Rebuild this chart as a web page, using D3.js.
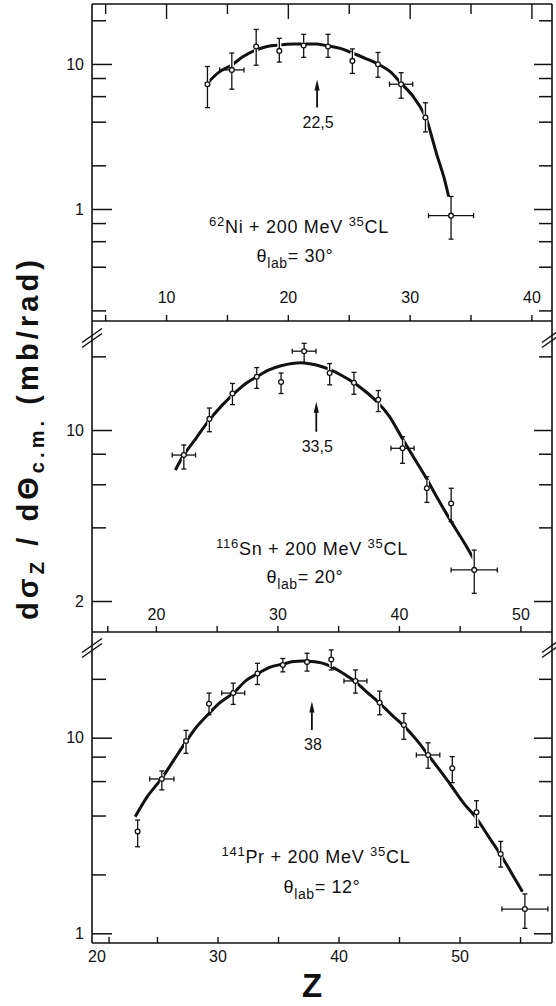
<!DOCTYPE html>
<html>
<head>
<meta charset="utf-8">
<script src="https://cdn.jsdelivr.net/npm/d3@7"></script>
<style>
  body { margin: 0; background: #fff; }
  svg { display: block; }
  text { font-family: "Liberation Sans", Arial, sans-serif; fill: #111; }
</style>
</head>
<body>
<svg id="chart" width="556" height="1006"></svg>
<script>
// ---- data ----
// 62Ni + 35Cl, theta_lab = 30
const niZ  = [13.4, 15.4, 17.4, 19.3, 21.3, 23.3, 25.3, 27.4, 29.3, 31.3, 33.4];
const niY  = [7.25, 9.1, 13.2, 12.3, 13.4, 13.2, 10.5, 9.95, 7.25, 4.27, 0.90];
const niHi = [9.6, 11.9, 17.3, 15.0, 16.0, 16.0, 12.7, 12.0, 8.7, 5.4, 1.22];
const niLo = [5.0, 6.7, 9.8, 10.3, 11.1, 11.1, 8.6, 8.1, 5.8, 3.4, 0.62];
const niDz = [0, 1.0, 0, 0, 0, 0, 0, 0, 0.95, 0, 1.85];
const niCurveZ = [13.4, 14.4, 15.4, 16.3, 17.4, 18.3, 19.3, 20.5, 21.3, 22.4, 23.3, 24.3,
  25.3, 26.5, 27.4, 28.4, 29.3, 30.3, 31.3, 31.7, 32.2, 32.8, 33.2];
const niCurveY = [7.36, 8.85, 9.84, 11.2, 12.5, 13.2, 13.5, 13.7, 13.7, 13.7, 13.3, 12.8,
  11.9, 10.8, 10.0, 8.85, 7.36, 5.96, 4.34, 3.41, 2.42, 1.67, 1.22];

// 116Sn + 35Cl, theta_lab = 20
const snZ  = [22.3, 24.4, 26.3, 28.3, 30.3, 32.2, 34.3, 36.3, 38.3, 40.3, 42.3, 44.3, 46.2];
const snY  = [7.9, 11.1, 14.1, 16.5, 15.7, 21.0, 17.1, 15.6, 13.3, 8.42, 5.78, 5.01, 2.68];
const snHi = [8.69, 12.3, 15.5, 18.0, 17.1, 22.6, 18.7, 17.2, 14.5, 9.39, 6.44, 5.78, 3.23];
const snLo = [6.93, 9.84, 12.7, 14.8, 14.1, 18.8, 15.3, 14.0, 11.9, 7.31, 5.06, 4.22, 2.15];
const snDz = [0.96, 0, 0, 0, 0, 0.98, 0, 0, 0, 0.95, 0, 0, 1.9];
const snCurveZ = [21.6, 22.3, 23.3, 24.4, 25.5, 26.3, 27.4, 28.3, 29.3, 30.3, 31.2, 32.2, 33.2,
  34.3, 35.3, 36.3, 37.3, 38.3, 39.2, 40.3, 41.1, 42.3, 43.0, 43.8, 44.7, 45.5, 46.2];
const snCurveY = [6.86, 7.91, 9.25, 11.0, 12.7, 13.9, 15.5, 16.5, 17.6, 18.3, 18.7, 18.8, 18.45,
  17.7, 16.7, 15.6, 14.3, 12.9, 11.4, 9.2, 7.9, 6.3, 5.45, 4.65, 3.92, 3.38, 2.94];

// 141Pr + 35Cl, theta_lab = 12
const prZ  = [23.4, 25.4, 27.4, 29.3, 31.3, 33.3, 35.4, 37.4, 39.4, 41.4, 43.4, 45.4, 47.4, 49.4, 51.4, 53.4, 55.4];
const prY  = [3.31, 6.15, 9.62, 14.9, 16.9, 21.3, 23.5, 24.4, 25.1, 19.5, 15.1, 11.6, 8.16, 6.98, 4.16, 2.54, 1.33];
const prHi = [3.79, 6.76, 10.9, 16.9, 19.0, 24.0, 25.4, 27.0, 28.1, 22.2, 17.3, 13.3, 9.42, 8.0, 4.76, 2.95, 1.59];
const prLo = [2.77, 5.41, 8.32, 13.1, 14.8, 18.7, 21.7, 21.9, 22.2, 16.9, 13.1, 9.82, 6.98, 5.89, 3.48, 2.18, 1.06];
const prDz = [0, 1.0, 0, 0, 0.95, 0, 0, 0, 0, 0.95, 0, 0, 0.97, 0, 0, 0, 1.9];
const prCurveZ = [23.2, 24.2, 25.4, 26.4, 27.4, 28.3, 29.3, 30.2, 31.3, 32.4, 33.3, 34.3, 35.4,
  36.3, 37.4, 38.5, 39.4, 40.4, 41.4, 42.3, 43.4, 44.5, 45.4, 46.5, 47.4, 48.4, 49.4, 50.3,
  51.4, 52.4, 53.4, 54.3, 55.2];
const prCurveY = [3.94, 5.00, 6.21, 7.70, 9.54, 11.4, 13.3, 15.1, 16.9, 19.7, 21.2, 22.9, 23.8,
  24.5, 24.6, 24.2, 23.1, 21.3, 19.3, 17.2, 15.0, 12.9, 11.5, 9.66, 8.17, 6.78, 5.58, 4.66,
  3.87, 3.12, 2.52, 2.03, 1.63];

// peak arrows (Z, from, to, label)
const arrowZ = [22.4, 33.2, 37.8];
const arrowFrom = [5.0, 9.84, 10.95];
const arrowTo = [7.8, 13.05, 15.3];
const arrowLabel = ["22,5", "33,5", "38"];

// reaction labels
const targetMass = ["62", "116", "141"];
const targetSym = ["Ni", "Sn", "Pr"];
const labAngle = ["30°", "20°", "12°"];

// axis ticks
const yTicks = [[20, 10, 8, 6, 4, 2, 1, 0.8, 0.6, 0.4, 0.2], [20, 10, 8, 6, 4, 2], [20, 10, 8, 6, 4, 2, 1]];
const yLabels = [[10, 1], [10, 2], [10, 1]];
const zTicks = [[5, 10, 15, 20, 25, 30, 35, 40], [16, 20, 25, 30, 35, 40, 45, 50], [21, 25, 30, 35, 40, 45, 50, 55]];
const zLabels = [[10, 20, 30, 40], [20, 30, 40, 50], [20, 30, 40, 50]];

// ---- layout ----
const left = 92, right = 552;
const layout = [
  { top: 4,   bottom: 321, zDom: [3.92, 41.69],  yDom: [0.169, 25.9], labelGap: 18, text: [[299, 233], [295, 262]] },
  { top: 321, bottom: 632, zDom: [14.74, 52.6],  yDom: [1.494, 27.9], labelGap: 12, text: [[312, 555], [305, 583]] },
  { top: 632, bottom: 943, zDom: [19.63, 57.64], yDom: [0.892, 34.7], labelGap: 0,  text: [[316, 863], [322, 893]] }
];
const series = [
  { z: niZ, y: niY, hi: niHi, lo: niLo, dz: niDz, cz: niCurveZ, cy: niCurveY },
  { z: snZ, y: snY, hi: snHi, lo: snLo, dz: snDz, cz: snCurveZ, cy: snCurveY },
  { z: prZ, y: prY, hi: prHi, lo: prLo, dz: prDz, cz: prCurveZ, cy: prCurveY }
];

const svg = d3.select("#chart");
svg.append("rect").attr("width", 556).attr("height", 1006).attr("fill", "#fff");

const ink = "#111";

layout.forEach((p, i) => {
  const s = series[i];
  const x = d3.scaleLinear().domain(p.zDom).range([left, right]);
  const y = d3.scaleLog().domain(p.yDom).range([p.bottom, p.top]);
  const g = svg.append("g");

  // left ticks (inward), labels outside
  const la = g.append("g").attr("transform", `translate(${left},0)`)
    .call(d3.axisLeft(y).tickValues(yTicks[i]).tickSize(-14).tickPadding(8)
      .tickFormat(d => yLabels[i].includes(d) ? d : ""));
  la.select(".domain").remove();
  la.selectAll(".tick line").attr("stroke", ink).attr("stroke-width", 1.5)
    .attr("x2", d => yLabels[i].includes(d) ? 20 : 14);
  la.selectAll(".tick text").attr("font-size", 16).attr("fill", ink);

  // right ticks (inward)
  const ra = g.append("g").attr("transform", `translate(${right},0)`)
    .call(d3.axisRight(y).tickValues(yTicks[i]).tickSize(-13).tickFormat(""));
  ra.select(".domain").remove();
  ra.selectAll(".tick line").attr("stroke", ink).attr("stroke-width", 1.5)
    .attr("x2", d => yLabels[i].includes(d) ? -18 : -13);

  // bottom ticks pointing up
  const ba = g.append("g").attr("transform", `translate(0,${p.bottom})`)
    .call(d3.axisTop(x).tickValues(zTicks[i]).tickSize(6).tickFormat(""));
  ba.select(".domain").remove();
  ba.selectAll(".tick line").attr("stroke", ink).attr("stroke-width", 1.4);

  // top ticks for the first panel
  if (i === 0) {
    const ta = g.append("g").attr("transform", `translate(0,${p.top})`)
      .call(d3.axisBottom(x).tickValues(zTicks[i]).tickSize(14).tickFormat(""));
    ta.select(".domain").remove();
    ta.selectAll(".tick line").attr("stroke", ink).attr("stroke-width", 1.4)
      .attr("y2", d => d % 10 === 0 ? 15 : 10);
  }

  // x labels: inside for upper panels, below for the last one
  let xl;
  if (p.labelGap > 0) {
    xl = g.append("g").attr("transform", `translate(0,${p.bottom})`)
      .call(d3.axisTop(x).tickValues(zLabels[i]).tickSize(0).tickPadding(p.labelGap).tickFormat(d3.format("d")));
  } else {
    xl = g.append("g").attr("transform", `translate(0,${p.bottom})`)
      .call(d3.axisBottom(x).tickValues(zLabels[i]).tickSize(0).tickPadding(8).tickFormat(d3.format("d")));
  }
  xl.select(".domain").remove();
  xl.selectAll(".tick line").remove();
  xl.selectAll(".tick text").attr("font-size", 16).attr("fill", ink);

  // fitted curve
  const pts = s.cz.map((z, k) => [z, s.cy[k]]);
  g.append("path").datum(pts)
    .attr("fill", "none").attr("stroke", ink).attr("stroke-width", 3)
    .attr("d", d3.line().x(d => x(d[0])).y(d => y(d[1])).curve(d3.curveCatmullRom.alpha(0.5)));

  // data points with error bars
  const data = s.z.map((z, k) => ({ z, v: s.y[k], hi: s.hi[k], lo: s.lo[k], dz: s.dz[k] }));
  const pg = g.append("g").selectAll("g").data(data).join("g");
  pg.append("line").attr("stroke", "#fff").attr("stroke-width", 4)
    .attr("x1", d => x(d.z)).attr("x2", d => x(d.z))
    .attr("y1", d => y(d.hi) + 3).attr("y2", d => y(d.lo) - 3);
  pg.append("line").attr("stroke", ink).attr("stroke-width", 1.3)
    .attr("x1", d => x(d.z)).attr("x2", d => x(d.z))
    .attr("y1", d => y(d.hi)).attr("y2", d => y(d.lo));
  pg.append("line").attr("stroke", ink).attr("stroke-width", 1.3)
    .attr("x1", d => x(d.z) - 2.5).attr("x2", d => x(d.z) + 2.5)
    .attr("y1", d => y(d.hi)).attr("y2", d => y(d.hi));
  pg.append("line").attr("stroke", ink).attr("stroke-width", 1.3)
    .attr("x1", d => x(d.z) - 2.5).attr("x2", d => x(d.z) + 2.5)
    .attr("y1", d => y(d.lo)).attr("y2", d => y(d.lo));
  const hz = pg.filter(d => d.dz > 0);
  hz.append("line").attr("stroke", ink).attr("stroke-width", 1.3)
    .attr("x1", d => x(d.z - d.dz)).attr("x2", d => x(d.z + d.dz))
    .attr("y1", d => y(d.v)).attr("y2", d => y(d.v));
  hz.append("line").attr("stroke", ink).attr("stroke-width", 1.3)
    .attr("x1", d => x(d.z - d.dz)).attr("x2", d => x(d.z - d.dz))
    .attr("y1", d => y(d.v) - 2.5).attr("y2", d => y(d.v) + 2.5);
  hz.append("line").attr("stroke", ink).attr("stroke-width", 1.3)
    .attr("x1", d => x(d.z + d.dz)).attr("x2", d => x(d.z + d.dz))
    .attr("y1", d => y(d.v) - 2.5).attr("y2", d => y(d.v) + 2.5);
  pg.append("circle").attr("r", 2.4).attr("fill", "#fff").attr("stroke", ink).attr("stroke-width", 1.3)
    .attr("cx", d => x(d.z)).attr("cy", d => y(d.v));

  // peak arrow
  const ax = x(arrowZ[i]), ay0 = y(arrowFrom[i]), ay1 = y(arrowTo[i]);
  g.append("line").attr("stroke", ink).attr("stroke-width", 1.8)
    .attr("x1", ax).attr("x2", ax).attr("y1", ay0).attr("y2", ay1 + 6);
  g.append("path").attr("fill", ink)
    .attr("d", `M${ax},${ay1} L${ax - 2.6},${ay1 + 11} L${ax + 2.6},${ay1 + 11} Z`);
  g.append("text").attr("x", ax + 1).attr("y", ay0 + 20).attr("text-anchor", "middle")
    .attr("font-size", 16).text(arrowLabel[i]);

  // reaction label
  const t1 = g.append("text").attr("x", p.text[0][0]).attr("y", p.text[0][1])
    .attr("text-anchor", "middle").attr("font-size", 18).attr("letter-spacing", 0.7);
  t1.append("tspan").attr("font-size", 13).attr("dy", -7).text(targetMass[i]);
  t1.append("tspan").attr("dy", 7).text(targetSym[i] + " + 200 MeV ");
  t1.append("tspan").attr("font-size", 13).attr("dy", -7).text("35");
  t1.append("tspan").attr("dy", 7).text("CL");

  const t2 = g.append("text").attr("x", p.text[1][0]).attr("y", p.text[1][1])
    .attr("text-anchor", "middle").attr("font-size", 18).attr("letter-spacing", 0.6);
  t2.append("tspan").text("θ");
  t2.append("tspan").attr("font-size", 14).attr("dy", 6).text("lab");
  t2.append("tspan").attr("dy", -6).text("= " + labAngle[i]);
});

// frame
const frame = svg.append("g").attr("stroke", ink).attr("stroke-width", 1.6).attr("fill", "none");
frame.append("line").attr("x1", left).attr("x2", left).attr("y1", layout[0].top).attr("y2", layout[2].bottom);
frame.append("line").attr("x1", right).attr("x2", right).attr("y1", layout[0].top).attr("y2", layout[2].bottom);
[layout[0].top, layout[0].bottom, layout[1].bottom, layout[2].bottom].forEach(yy => {
  frame.append("line").attr("x1", left).attr("x2", right).attr("y1", yy).attr("y2", yy);
});

// axis break marks
[layout[1].top + 17, layout[2].top + 16].forEach(yy => {
  [left, right].forEach(xx => {
    [-2.5, 2.5].forEach(off => {
      frame.append("line").attr("stroke-width", 1.5)
        .attr("x1", xx - 10).attr("y1", yy + 7 + off)
        .attr("x2", xx + 10).attr("y2", yy - 7 + off);
    });
  });
});

// axis titles
const yt = svg.append("text").attr("transform", "translate(38,440) rotate(-90)")
  .attr("text-anchor", "middle").attr("font-size", 29).attr("font-weight", "bold")
  .attr("textLength", 360).attr("lengthAdjust", "spacing");
yt.append("tspan").text("dσ");
yt.append("tspan").attr("font-size", 20).attr("dy", 6).text("Z");
yt.append("tspan").attr("dy", -6).text(" / dΘ");
yt.append("tspan").attr("font-size", 20).attr("dy", 6).text("c.m.");
yt.append("tspan").attr("dy", -6).text(" (mb/rad)");

svg.append("text").attr("x", 312).attr("y", 997).attr("text-anchor", "middle")
  .attr("font-size", 33).attr("font-weight", "bold").text("Z");
</script>
</body>
</html>
